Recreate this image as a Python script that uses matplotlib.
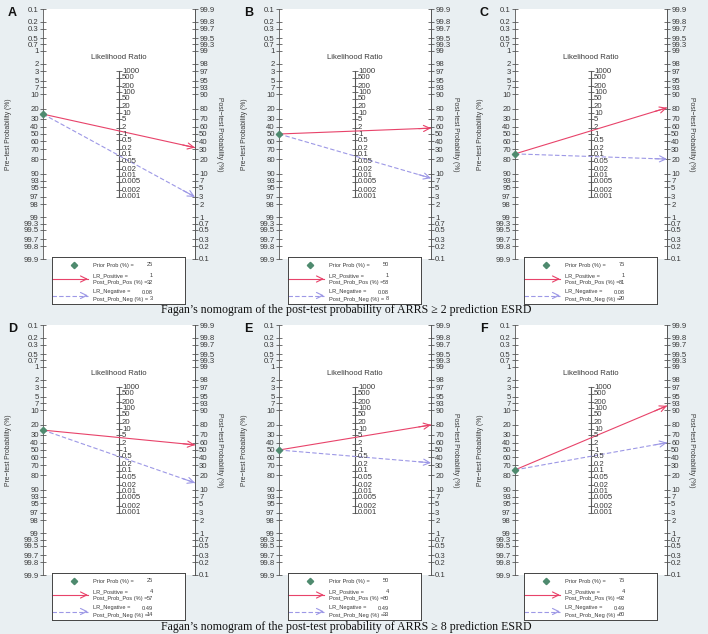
import numpy as np
import matplotlib
matplotlib.use("Agg")
import matplotlib.pyplot as plt
from matplotlib import font_manager

# values
letters = ["A", "B", "C", "D", "E", "F"]
prior = [25, 50, 75, 25, 50, 75]
lr_pos = [1, 1, 1, 4, 4, 4]
post_pos = [32, 58, 81, 57, 80, 92]
lr_neg = [0.08, 0.08, 0.08, 0.49, 0.49, 0.49]
post_neg = [3, 8, 20, 14, 33, 60]

prob_ticks = [0.1, 0.2, 0.3, 0.5, 0.7, 1, 2, 3, 5, 7, 10, 20, 30, 40, 50, 60,
              70, 80, 90, 93, 95, 97, 98, 99, 99.3, 99.5, 99.7, 99.8, 99.9]
lr_ticks = [1000, 500, 200, 100, 50, 20, 10, 5, 2, 1, 0.5, 0.2, 0.1, 0.05,
            0.02, 0.01, 0.005, 0.002, 0.001]
captions = ["Fagan\u2019s nomogram of the post-test probability of ARRS \u2265 2 prediction ESRD",
            "Fagan\u2019s nomogram of the post-test probability of ARRS \u2265 8 prediction ESRD"]

plt.rcParams['font.family'] = ['Liberation Sans', 'DejaVu Sans']
names = {f.name for f in font_manager.fontManager.ttflist}
NARROW = 'Liberation Sans Narrow' if 'Liberation Sans Narrow' in names else 'Liberation Sans'

W, H = 708, 634
BG = '#e9eff2'
RED = '#e8436a'
BLUE = '#9d98e6'
GREEN = '#4e8a6e'
TXT = '#3a3a3a'
AXC = '#555555'


def logit(p):
    p = np.asarray(p, dtype=float) / 100
    return np.log(p / (1 - p))


def box(x, y, w, h):
    # pixel box (top-left origin) -> figure fraction
    return [x / W, 1 - (y + h) / H, w / W, h / H]


def arrow(ax, x0, y0, x1, y1, color, ls):
    ax.plot([x0, x1], [y0, y1], color=color, lw=0.8, ls=ls,
            dashes=(4, 2) if ls == '--' else (None, None), clip_on=False)
    f = 0.92
    ax.annotate('', xy=(x1, y1), xytext=(x0 + f * (x1 - x0), y0 + f * (y1 - y0)),
                arrowprops=dict(arrowstyle='->,head_length=0.45,head_width=0.22',
                                color=color, lw=0.8, shrinkA=0, shrinkB=0),
                annotation_clip=False)


fig = plt.figure(figsize=(W / 100, H / 100), dpi=100, facecolor=BG)
lim = float(logit(99.9))

for i in range(6):
    row, col = i // 3, i % 3
    x0 = 43 + 236 * col
    y0 = 9 + 316 * row

    ax = fig.add_axes(box(x0, y0, 152, 250))
    ax.set_facecolor('white')
    ax.set_xlim(0, 1)
    ax.set_ylim(-lim, lim)
    ax.set_xticks([])
    for s in ['top', 'bottom']:
        ax.spines[s].set_visible(False)
    for s in ['left', 'right']:
        ax.spines[s].set_color(AXC)
        ax.spines[s].set_linewidth(0.6)
    ax.set_yticks(-logit(prob_ticks))
    ax.set_yticklabels(['{:g}'.format(p) for p in prob_ticks])
    ax.tick_params(axis='y', direction='inout', length=4, width=0.5, pad=1,
                   labelsize=5.6, colors=TXT)
    ax.set_ylabel('Pre\u2212test Probability (%)', fontsize=4.9, color=TXT)
    ax.yaxis.set_label_coords(-31 / 152, 0.5)

    ax2 = ax.twinx()
    ax2.set_ylim(-lim, lim)
    ax2.set_yticks(logit(prob_ticks))
    ax2.set_yticklabels(['{:g}'.format(p) for p in prob_ticks])
    ax2.tick_params(axis='y', direction='inout', length=4, width=0.5, pad=1,
                    labelsize=5.6, colors=TXT)
    for s in ['top', 'bottom', 'left']:
        ax2.spines[s].set_visible(False)
    ax2.spines['right'].set_color(AXC)
    ax2.spines['right'].set_linewidth(0.6)
    ax2.set_ylabel('Post\u2212test Probability (%)', fontsize=4.9, color=TXT,
                   rotation=270, va='center')
    ax2.yaxis.set_label_coords((152 + 24) / 152, 0.5)

    # likelihood ratio scale in the middle
    ylr = np.log(lr_ticks) / 2
    ax2.plot([0.5, 0.5], [ylr[0], ylr[-1]], color=AXC, lw=0.8)
    ax2.plot(np.full(len(ylr), 0.5), ylr, ls='none', marker='_', ms=5,
             mew=0.6, color=AXC)
    for v, y in zip(lr_ticks, ylr):
        ax2.text(0.52, y, '{:g}'.format(v), fontsize=5.6, color=TXT,
                 va='center', ha='left')
    ax2.text(0.5, 4.25, 'Likelihood Ratio', fontsize=5.6, color=TXT,
             ha='center', va='center')

    ypre = -float(logit(prior[i]))
    arrow(ax2, 0, ypre, 1, float(logit(post_pos[i])), RED, '-')
    arrow(ax2, 0, ypre, 1, float(logit(post_neg[i])), BLUE, '--')
    ax2.plot(0, ypre, marker='D', ms=3.2, color=GREEN, clip_on=False, zorder=5)

    fig.text((x0 - 35) / W, 1 - (y0 - 2) / H, letters[i], fontsize=9,
             fontweight='bold', va='top', ha='left', color='#111111')

    # legend box
    lg = fig.add_axes(box(x0 + 9, y0 + 248, 133, 47))
    lg.set_xlim(0, 133)
    lg.set_ylim(47, 0)
    lg.set_xticks([])
    lg.set_yticks([])
    lg.set_facecolor('white')
    for s in lg.spines.values():
        s.set_color('#444444')
        s.set_linewidth(0.7)
    lg.plot(22, 8, marker='D', ms=3.2, color=GREEN)
    arrow(lg, 0, 22, 36, 22, RED, '-')
    arrow(lg, 0, 38.5, 36, 38.5, BLUE, '--')
    fs = 4.1
    rows = [('Prior Prob (%) =', '{:g}'.format(prior[i]), 8),
            ('LR_Positive =', '{:g}'.format(lr_pos[i]), 18.5),
            ('Post_Prob_Pos (%) =', '{:g}'.format(post_pos[i]), 25.5),
            ('LR_Negative =', '{:g}'.format(lr_neg[i]), 35),
            ('Post_Prob_Neg (%) =', '{:g}'.format(post_neg[i]), 42)]
    for lab, val, y in rows:
        lg.text(41, y, lab, fontsize=fs, family=NARROW, color=TXT, va='center', ha='left')
        lg.text(101, y, val, fontsize=fs, family=NARROW, color=TXT, va='center', ha='right')

for k, cap in enumerate(captions):
    fig.text(346 / W, 1 - (310 + 317 * k) / H, cap, fontsize=8.55,
             family='Liberation Serif', ha='center', va='center', color='#111111')

fig.savefig('out.png', dpi=100, facecolor=BG)
